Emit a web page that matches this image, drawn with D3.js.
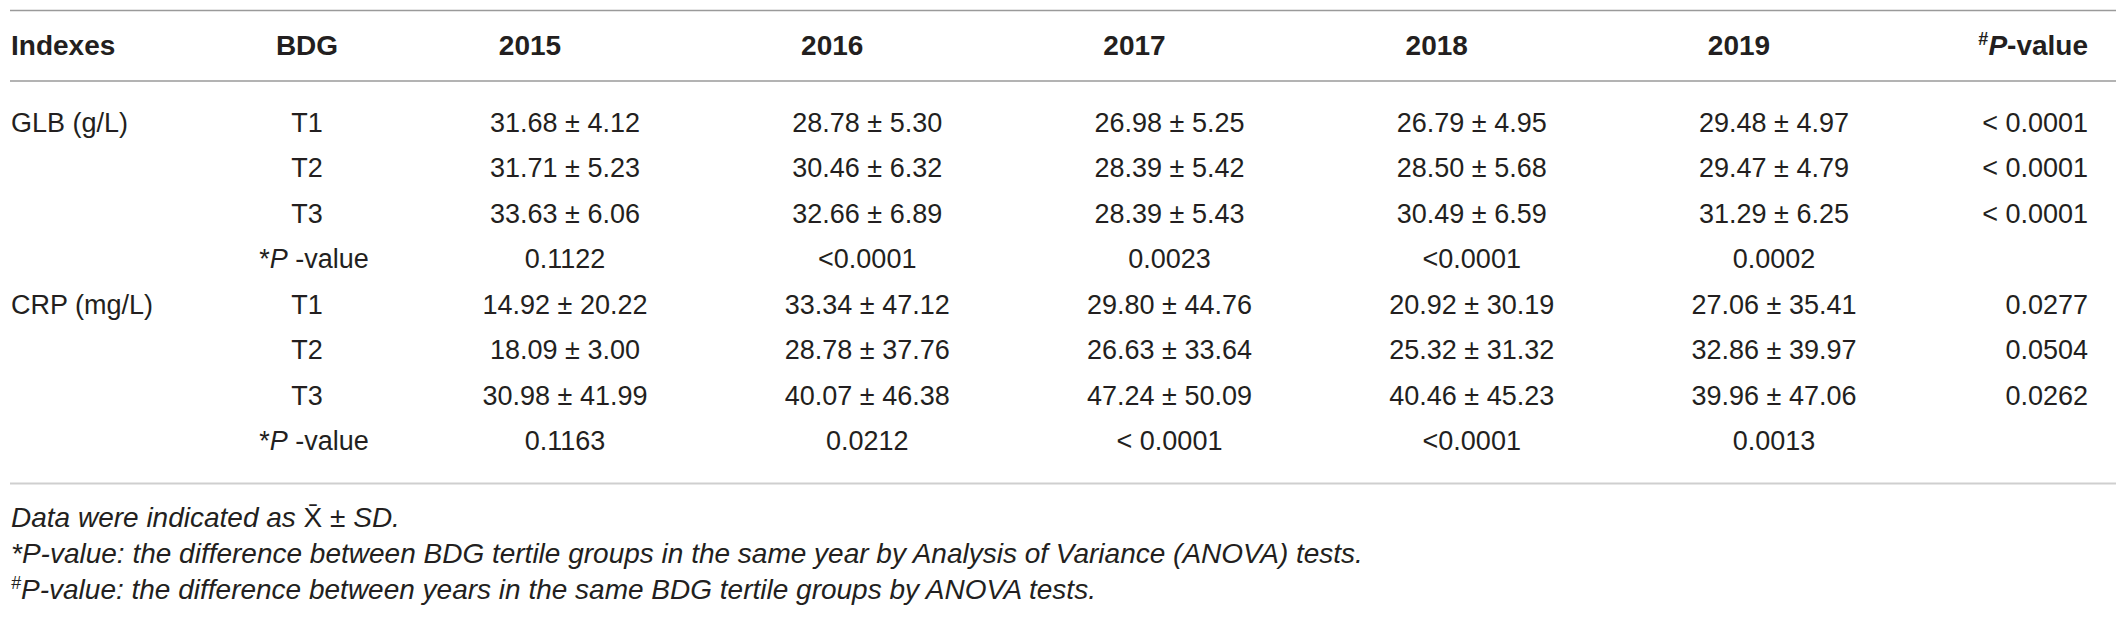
<!DOCTYPE html>
<html>
<head>
<meta charset="utf-8">
<script src="https://cdn.jsdelivr.net/npm/d3@7"></script>
<style>
  body { margin: 0; background: #fff; }
  svg { display: block; font-family: "Liberation Sans", Arial, sans-serif; }
</style>
</head>
<body>
<script>
// table values
var years = ["2015", "2016", "2017", "2018", "2019"];
var indexes = ["GLB (g/L)", "CRP (mg/L)"];
var groups = ["T1", "T2", "T3"];

var glbMean = [[31.68, 28.78, 26.98, 26.79, 29.48],
               [31.71, 30.46, 28.39, 28.50, 29.47],
               [33.63, 32.66, 28.39, 30.49, 31.29]];
var glbSD   = [[4.12, 5.30, 5.25, 4.95, 4.97],
               [5.23, 6.32, 5.42, 5.68, 4.79],
               [6.06, 6.89, 5.43, 6.59, 6.25]];
var glbYearP  = ["0.1122", "<0.0001", "0.0023", "<0.0001", "0.0002"];
var glbGroupP = ["< 0.0001", "< 0.0001", "< 0.0001"];

var crpMean = [[14.92, 33.34, 29.80, 20.92, 27.06],
               [18.09, 28.78, 26.63, 25.32, 32.86],
               [30.98, 40.07, 47.24, 40.46, 39.96]];
var crpSD   = [[20.22, 47.12, 44.76, 30.19, 35.41],
               [3.00, 37.76, 33.64, 31.32, 39.97],
               [41.99, 46.38, 50.09, 45.23, 47.06]];
var crpYearP  = ["0.1163", "0.0212", "< 0.0001", "<0.0001", "0.0013"];
var crpGroupP = ["0.0277", "0.0504", "0.0262"];

var notes = ["*P-value: the difference between BDG tertile groups in the same year by Analysis of Variance (ANOVA) tests.",
  "P-value: the difference between years in the same BDG tertile groups by ANOVA tests."];

var svgWidth = 2128;
var svgHeight = 619;
var ink = "#231f20";
var fmt = d3.format(".2f");

var svg = d3.select("body")
  .append("svg")
  .attr("width", svgWidth)
  .attr("height", svgHeight);

svg.append("rect").attr("width", svgWidth).attr("height", svgHeight).attr("fill", "#fff");

// column positions
var x = d3.scalePoint().domain(years).range([565, 1774]);
var headOffset = -35;
var pX = 2088;
var bdgX = 307;
var idxX = 11;

// build the body rows: 4 per index (T1..T3, *P-value)
var rows = [];
[[glbMean, glbSD, glbYearP, glbGroupP], [crpMean, crpSD, crpYearP, crpGroupP]].forEach(function(set, k) {
  groups.forEach(function(g, i) {
    rows.push({
      index: i === 0 ? indexes[k] : "",
      group: g,
      cells: years.map(function(yr, j) { return fmt(set[0][i][j]) + " \u00b1 " + fmt(set[1][i][j]); }),
      p: set[3][i]
    });
  });
  rows.push({ index: "", group: null, cells: set[2], p: "" });
});

var y = d3.scaleLinear().domain([0, rows.length - 1]).range([132, 450]);

// rules
var rules = [
  { y: 10.5, c: "#9a9a9a", w: 1.6 },
  { y: 81, c: "#9a9a9a", w: 1.6 },
  { y: 483.5, c: "#cfcfcf", w: 2.2 }
];
svg.selectAll(".rule")
  .data(rules)
  .enter()
  .append("line")
  .attr("x1", 10)
  .attr("x2", 2116)
  .attr("y1", d => d.y)
  .attr("y2", d => d.y)
  .attr("stroke", d => d.c)
  .attr("stroke-width", d => d.w);

// header
var head = svg.append("g")
  .attr("font-weight", "bold")
  .attr("font-size", 28)
  .attr("fill", ink);

head.append("text").attr("x", idxX).attr("y", 55).text("Indexes");
head.append("text").attr("x", bdgX).attr("y", 55).attr("text-anchor", "middle").text("BDG");
head.selectAll(".yr")
  .data(years)
  .enter()
  .append("text")
  .attr("x", d => x(d) + headOffset)
  .attr("y", 55)
  .attr("text-anchor", "middle")
  .text(d => d);

var ph = head.append("text").attr("x", pX).attr("y", 55).attr("text-anchor", "end");
ph.append("tspan").attr("font-size", 18).attr("dy", -10).text("#");
ph.append("tspan").attr("font-style", "italic").attr("dy", 10).text("P");
ph.append("tspan").text("-value");

// body
var body = svg.append("g")
  .attr("font-size", 27)
  .attr("fill", ink);

var rowG = body.selectAll(".row")
  .data(rows)
  .enter()
  .append("g")
  .attr("transform", (d, i) => `translate(0, ${y(i)})`);

rowG.append("text").attr("x", idxX).text(d => d.index);

rowG.each(function(d) {
  var t = d3.select(this).append("text").attr("x", bdgX).attr("text-anchor", "middle");
  if (d.group) {
    t.text(d.group);
  } else {
    t.attr("x", bdgX + 7);
    t.append("tspan").text("*");
    t.append("tspan").attr("font-style", "italic").text("P");
    t.append("tspan").text(" -value");
  }
});

rowG.selectAll(".cell")
  .data(d => d.cells)
  .enter()
  .append("text")
  .attr("x", (d, j) => x(years[j]))
  .attr("text-anchor", "middle")
  .text(d => d);

rowG.append("text")
  .attr("x", pX)
  .attr("text-anchor", "end")
  .text(d => d.p);

// footnotes
var foot = svg.append("g")
  .attr("font-size", 28)
  .attr("font-style", "italic")
  .attr("fill", ink);

var f1 = foot.append("text").attr("x", idxX).attr("y", 527);
f1.append("tspan").text("Data were indicated as ");
f1.append("tspan").attr("font-style", "normal").text("X\u0304 \u00b1 ");
f1.append("tspan").text("SD.");

foot.append("text").attr("x", idxX).attr("y", 563).text(notes[0]);
var f3 = foot.append("text").attr("x", idxX).attr("y", 599);
f3.append("tspan").attr("font-size", 18).attr("dy", -10).text("#");
f3.append("tspan").attr("dy", 10).text(notes[1]);
</script>
</body>
</html>
